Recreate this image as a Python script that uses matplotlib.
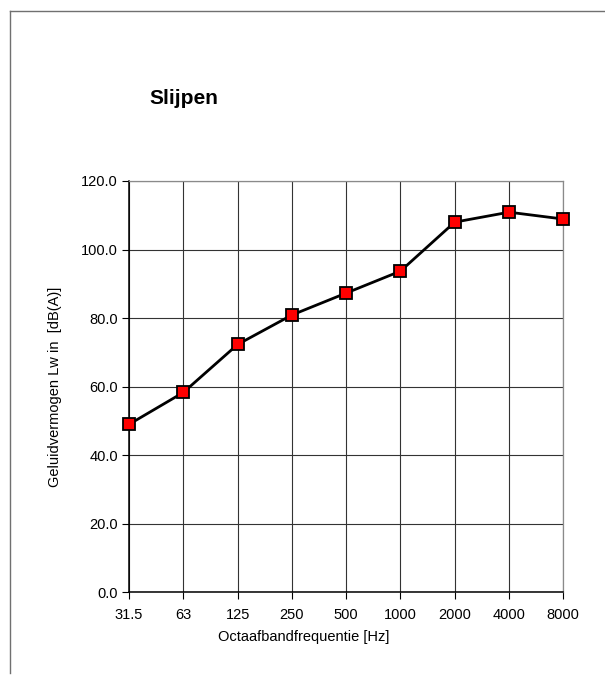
import matplotlib
matplotlib.use("Agg")
import matplotlib.pyplot as plt
from matplotlib.lines import Line2D

plt.rcParams['font.family'] = ['Liberation Sans', 'DejaVu Sans']

categories = ["31.5", "63", "125", "250", "500", "1000", "2000", "4000", "8000"]
values = [49.0, 58.3, 72.3, 80.9, 87.3, 93.7, 108.0, 110.9, 108.9]
y_ticks = [0, 20, 40, 60, 80, 100, 120]
title = "Slijpen"
xlabel = "Octaafbandfrequentie [Hz]"
ylabel = "Geluidvermogen Lw in  [dB(A)]"

fig = plt.figure(figsize=(6.05, 6.75), dpi=100)
ax = fig.add_axes([129/605, 1-592.3/675, (563.3-129)/605, (592.3-181)/675])

x = list(range(len(categories)))
ax.plot(x, values, color='black', lw=2.0, marker='s', markersize=9.3,
        markerfacecolor='#ff0000', markeredgecolor='black', markeredgewidth=1.3,
        zorder=5, clip_on=False)

ax.set_xlim(0, len(categories)-1)
ax.set_ylim(0, 120)
ax.set_xticks(x)
ax.set_xticklabels(categories, fontsize=10.5)
ax.set_yticks(y_ticks)
ax.set_yticklabels([f"{v:.1f}" for v in y_ticks], fontsize=10.5)
ax.grid(True, color='#333333', lw=0.8, zorder=0)
ax.set_axisbelow(True)
for s in ['top', 'right']:
    ax.spines[s].set_color('#8a8a8a')
    ax.spines[s].set_linewidth(0.9)
for s in ['left', 'bottom']:
    ax.spines[s].set_color('black')
    ax.spines[s].set_linewidth(1.1)
ax.tick_params(axis='both', direction='out', length=5, width=0.8, color='black', pad=3)
ax.tick_params(axis='x', pad=6)

ax.set_ylabel(ylabel, fontsize=10.5, labelpad=14)
fig.text(303.5/605, 1-637/675, xlabel, fontsize=10.5, ha='center', va='center')
fig.text(149/605, 1-104/675, title, fontsize=15, fontweight='bold', ha='left', va='baseline')

# chart-area border lines (top and left)
fig.add_artist(Line2D([9.5/605, 1.0], [1-10.5/675, 1-10.5/675], color='#707070', lw=1.0,
                      transform=fig.transFigure))
fig.add_artist(Line2D([9.5/605, 9.5/605], [1-10.5/675, 1-673/675], color='#707070', lw=1.0,
                      transform=fig.transFigure))

fig.savefig("out.png", dpi=100)
